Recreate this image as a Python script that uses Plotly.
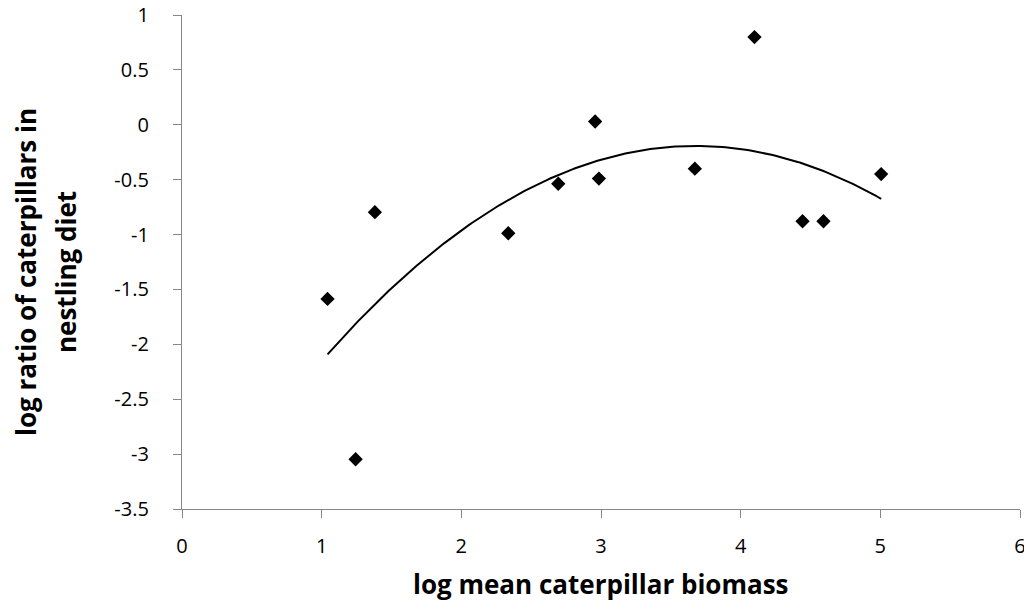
import numpy as np
import plotly.graph_objects as go

biomass = [1.042, 1.243, 1.381, 2.336, 2.694, 2.958, 2.985, 3.672, 4.099, 4.443, 4.593, 5.006]
diet_ratio = [-1.586, -3.047, -0.796, -0.988, -0.537, 0.03, -0.49, -0.40, 0.799, -0.879, -0.879, -0.449]

x_ticks = [0, 1, 2, 3, 4, 5, 6]
y_ticks = [1, 0.5, 0, -0.5, -1, -1.5, -2, -2.5, -3, -3.5]

x_title = "log mean caterpillar biomass"
y_title_lines = ["log ratio of caterpillars in", "nestling diet"]

coef = np.polyfit(biomass, diet_ratio, 2)
xs = np.linspace(min(biomass), max(biomass), 200)
ys = np.polyval(coef, xs)

# page offset of the plotly div (default body margin)
OFF = 8
PAGE_W, PAGE_H = 1032, 609
W, H = PAGE_W - OFF, PAGE_H - OFF
# plot area in page pixels
PL, PR, PT, PB = 182, 1020, 15, 509
ML, MR, MT, MB = PL - OFF, PAGE_W - PR, PT - OFF, PAGE_H - PB
PW, PH = PR - PL, PB - PT

def px_to_paper_x(px):
    return (px - PL) / PW

def px_to_paper_y(py):
    return (PB - py) / PH

fig = go.Figure()
fig.add_trace(go.Scatter(x=xs, y=ys, mode="lines", line=dict(color="black", width=2),
                         hoverinfo="skip", showlegend=False))
fig.add_trace(go.Scatter(x=biomass, y=diet_ratio, mode="markers",
                         marker=dict(symbol="diamond", size=11, color="black"),
                         showlegend=False))

FONT = "Open Sans"
axis_common = dict(showgrid=False, zeroline=False, showline=True, linecolor="#868686",
                   linewidth=1.3, ticks="outside", tickcolor="#868686", ticklen=8,
                   automargin=False, ticklabeloverflow="allow",
                   tickfont=dict(family=FONT, size=20, color="black"))

fig.update_layout(
    width=W, height=H,
    margin=dict(l=ML, r=MR, t=MT, b=MB),
    plot_bgcolor="white", paper_bgcolor="white",
    xaxis=dict(range=[0, 6], tickvals=x_ticks, ticktext=[str(v) for v in x_ticks],
               ticklabelstandoff=11, **axis_common),
    yaxis=dict(range=[-3.5, 1], tickvals=y_ticks, ticktext=[str(v) for v in y_ticks],
               ticklabelstandoff=20, **axis_common),
)

title_font = dict(family=FONT, size=26, color="black")
fig.add_annotation(text="<b>%s</b>" % x_title, xref="paper", yref="paper",
                   x=0.5, y=px_to_paper_y(584), xanchor="center", yanchor="middle",
                   showarrow=False, font=title_font)
for cx, line in zip([26, 66], y_title_lines):
    fig.add_annotation(text="<b>%s</b>" % line, xref="paper", yref="paper",
                       x=px_to_paper_x(cx), y=px_to_paper_y(272), xanchor="center", yanchor="middle",
                       textangle=-90, showarrow=False, font=title_font, borderpad=0)

fig.write_html("out.html")
